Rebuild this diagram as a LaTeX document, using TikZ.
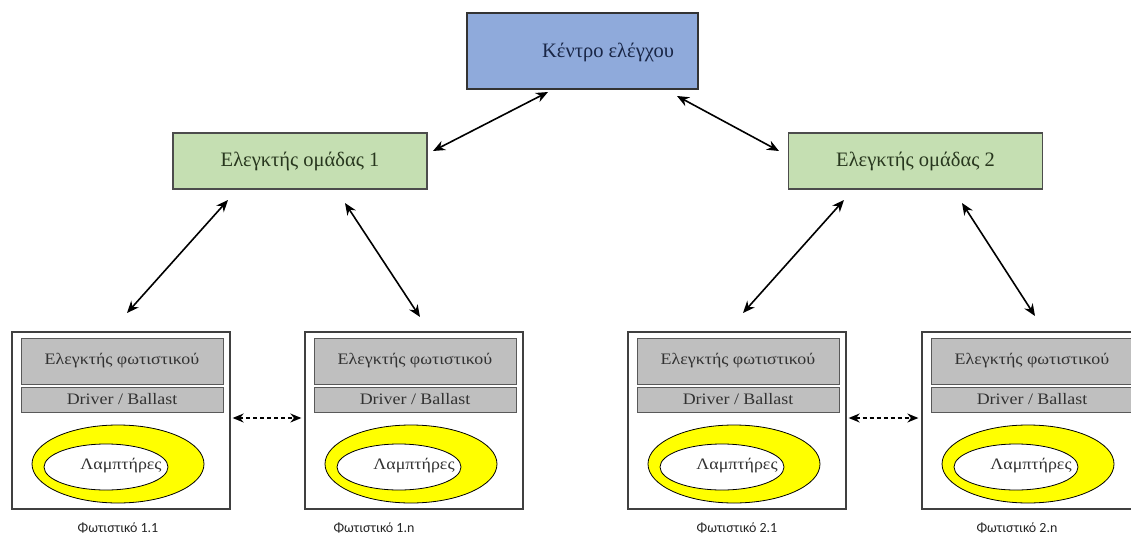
\documentclass[tikz,border=0pt]{standalone}
\usepackage{fontspec}
\setmainfont{Liberation Serif}
\newfontfamily\lblfont{Carlito}
\newfontfamily\widefont[FakeStretch=1.12]{Liberation Serif}
\usetikzlibrary{arrows.meta,shapes.geometric,calc}
\definecolor{topblue}{RGB}{143,170,219}
\definecolor{grpgreen}{RGB}{197,223,178}
\definecolor{boxgray}{RGB}{191,191,191}
\definecolor{lampyellow}{RGB}{255,255,0}
\definecolor{navytext}{RGB}{25,38,70}
\definecolor{greentext}{RGB}{40,55,30}
\definecolor{graytext}{RGB}{50,50,50}
\tikzset{
  topbox/.style={draw=black!80, line width=1.3pt, fill=topblue, minimum width=231pt, minimum height=76pt, inner sep=0pt},
  grpbox/.style={draw=black!70, line width=1.3pt, fill=grpgreen, minimum width=254pt, minimum height=56pt, inner sep=0pt,
    text=greentext, font=\fontsize{20.5}{24}\selectfont},
  fixbox/.style={draw=black!75, line width=1.3pt, fill=white, minimum width=218pt, minimum height=177pt, inner sep=0pt},
  graybox/.style={draw=black!65, line width=1pt, fill=boxgray, minimum width=202pt, inner sep=0pt,
    text=graytext, font=\widefont\fontsize{16}{19}\selectfont},
  outerell/.style={ellipse, draw=black, line width=0.8pt, fill=lampyellow, minimum width=172pt, minimum height=78pt, inner sep=0pt},
  innerell/.style={ellipse, draw=black, line width=0.8pt, fill=white, minimum width=124pt, minimum height=46pt, inner sep=0pt},
  lamptext/.style={text=graytext, font=\widefont\fontsize{16}{19}\selectfont, inner sep=0pt},
  fixlabel/.style={text=black!85, font=\lblfont\fontsize{14}{16}\selectfont, inner sep=0pt},
  biarrow/.style={line width=1.6pt, {Stealth[length=12pt,width=10pt]}-{Stealth[length=12pt,width=10pt]}},
  dasharrow/.style={line width=1.5pt, dash pattern=on 4pt off 3pt, {Stealth[length=11pt,width=9pt]}-{Stealth[length=11pt,width=9pt]}},
}
\newcommand\lampunit[4]{%
  \node[fixbox] (#1) at (#2+109,420.5) {};
  \node[graybox, minimum height=46pt] (#1c) at (#2+110,361) {Ελεγκτής φωτιστικού};
  \node[graybox, minimum height=25pt] (#1d) at (#2+110,399.5) {Driver / Ballast};
  \node[outerell] (#1o) at (#2+106,464) {};
  \node[innerell] (#1i) at (#2+94,467) {};
  \node[lamptext] (#1t) at (#2+109,466) {Λαμπτήρες};
  \node[fixlabel] (#1l) at (#2+109+#4,528) {#3};
}
\begin{document}
\begin{tikzpicture}[x=1pt,y=-1pt]
\useasboundingbox (0,0) rectangle (1131,540);
\clip (0,0) rectangle (1131,540);
\node[topbox] (top) at (582.5,51) {};
\node[text=navytext, font=\fontsize{20.5}{24}\selectfont] (toptext) at (608,52) {Κέντρο ελέγχου};
\node[grpbox] (g1) at (300,161) {Ελεγκτής ομάδας 1};
\node[grpbox] (g2) at (915.5,161) {Ελεγκτής ομάδας 2};
\lampunit{f11}{12}{Φωτιστικό 1.1}{-3}
\lampunit{f1n}{305}{Φωτιστικό 1.n}{-40}
\lampunit{f21}{628}{Φωτιστικό 2.1}{0}
\lampunit{f2n}{922}{Φωτιστικό 2.n}{-14}
% arrow end points
\coordinate (tA) at (548,92);  \coordinate (g1A) at (433,151);
\coordinate (tB) at (677,96);  \coordinate (g2A) at (779,151);
\coordinate (g1L) at (228,200); \coordinate (f11A) at (127,313);
\coordinate (g1R) at (345,203); \coordinate (f1nA) at (420,317);
\coordinate (g2L) at (844,200); \coordinate (f21A) at (743,313);
\coordinate (g2R) at (962,203); \coordinate (f2nA) at (1035,316);
\draw[biarrow] (tA) -- (g1A);
\draw[biarrow] (tB) -- (g2A);
\draw[biarrow] (g1L) -- (f11A);
\draw[biarrow] (g1R) -- (f1nA);
\draw[biarrow] (g2L) -- (f21A);
\draw[biarrow] (g2R) -- (f2nA);
\draw[dasharrow] ([xshift=2pt,yshift=2.5pt]f11.east) -- ([xshift=-3pt,yshift=2.5pt]f1n.west);
\draw[dasharrow] ([xshift=2pt,yshift=2.5pt]f21.east) -- ([xshift=-3pt,yshift=2.5pt]f2n.west);
\end{tikzpicture}
\end{document}
